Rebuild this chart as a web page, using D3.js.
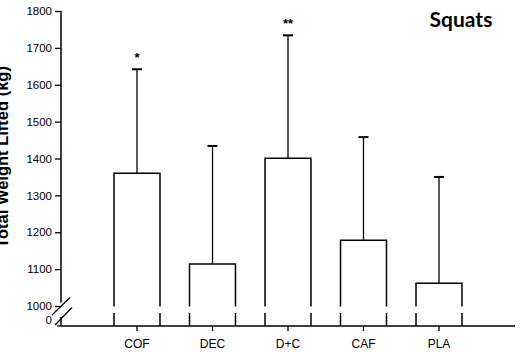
<!DOCTYPE html>
<html>
<head>
<meta charset="utf-8">
<script src="https://cdn.jsdelivr.net/npm/d3@7"></script>
<style>
  body { margin: 0; background: #fff; }
  svg { display: block; }
  text { font-family: "Liberation Sans", Arial, sans-serif; fill: #000; }
</style>
</head>
<body>
<div id="chart"></div>
<script>
// data
const groups = ["COF", "DEC", "D+C", "CAF", "PLA"];
const means = [1360, 1114, 1401, 1178, 1062];
const errTops = [1642, 1434, 1734, 1458, 1350];
const signif = ["*", "", "**", "", ""];
const yTicks = [1000, 1100, 1200, 1300, 1400, 1500, 1600, 1700, 1800];

const W = 530, H = 352;
const svg = d3.select("#chart").append("svg")
    .attr("width", W).attr("height", H);

const axisX = 61, axisRight = 515, baseY = 326;
const breakTop = 306.5, breakBot = 313;

const x = d3.scaleBand().domain(groups).range([114, 462]).paddingInner(0.391).paddingOuter(0);
const y = d3.scaleLinear().domain([1000, 1800]).range([306, 11]);

// y axis (upper part)
const yAxis = d3.axisLeft(y).tickValues(yTicks).tickSize(6).tickPadding(4).tickFormat(d3.format("d"));
const gy = svg.append("g").attr("transform", `translate(${axisX},0)`).call(yAxis);
gy.select(".domain").remove();
gy.selectAll(".tick line").attr("stroke", "#000").attr("stroke-width", 1.3);
gy.selectAll(".tick text").style("font-size", "11.5px").attr("x", -9);

svg.append("line")
    .attr("x1", axisX).attr("x2", axisX)
    .attr("y1", y(1800)).attr("y2", breakTop - 4)
    .attr("stroke", "#000").attr("stroke-width", 1.5);
svg.append("line")
    .attr("x1", axisX).attr("x2", axisX)
    .attr("y1", breakBot + 4).attr("y2", baseY)
    .attr("stroke", "#000").attr("stroke-width", 1.5);

// break slashes
[0, 10].forEach(off => {
  svg.append("line")
    .attr("x1", axisX - 9 + off * 0.3).attr("y1", breakBot + 2 + off)
    .attr("x2", axisX + 9 + off * 0.2).attr("y2", breakTop - 9 + off)
    .attr("stroke", "#000").attr("stroke-width", 1.2);
});

// zero label
svg.append("text")
    .attr("x", axisX - 9).attr("y", baseY - 2)
    .attr("text-anchor", "end")
    .style("font-size", "11.5px")
    .text("0");
svg.append("line")
    .attr("x1", axisX - 4).attr("x2", axisX)
    .attr("y1", baseY).attr("y2", baseY)
    .attr("stroke", "#000").attr("stroke-width", 1.3);

// x axis
svg.append("line")
    .attr("x1", axisX).attr("x2", axisRight)
    .attr("y1", baseY).attr("y2", baseY)
    .attr("stroke", "#000").attr("stroke-width", 1.5);
const xAxis = d3.axisBottom(x).tickSize(5).tickPadding(8);
const gx = svg.append("g").attr("transform", `translate(0,${baseY})`).call(xAxis);
gx.select(".domain").remove();
gx.selectAll(".tick line").attr("stroke", "#000").attr("stroke-width", 1.3);
gx.selectAll(".tick text").style("font-size", "12px");

// bars, drawn as open boxes broken at the axis break
const bars = svg.append("g");
groups.forEach((g, i) => {
  const x0 = x(g), x1 = x(g) + x.bandwidth(), top = y(means[i]);
  const p = d3.path();
  p.moveTo(x0, breakTop); p.lineTo(x0, top); p.lineTo(x1, top); p.lineTo(x1, breakTop);
  p.moveTo(x0, breakBot); p.lineTo(x0, baseY);
  p.moveTo(x1, breakBot); p.lineTo(x1, baseY);
  bars.append("path").attr("d", p.toString())
      .attr("fill", "none").attr("stroke", "#000").attr("stroke-width", 1.5);

  const cx = x(g) + x.bandwidth() / 2;
  bars.append("line")
      .attr("x1", cx).attr("x2", cx)
      .attr("y1", top).attr("y2", y(errTops[i]))
      .attr("stroke", "#000").attr("stroke-width", 1.3);
  bars.append("line")
      .attr("x1", cx - 5).attr("x2", cx + 5)
      .attr("y1", y(errTops[i])).attr("y2", y(errTops[i]))
      .attr("stroke", "#000").attr("stroke-width", 2);
  if (signif[i]) {
    bars.append("text")
        .attr("x", cx).attr("y", y(errTops[i]) - 7)
        .attr("text-anchor", "middle")
        .style("font-size", "13px").style("font-weight", "bold")
        .text(signif[i]);
  }
});

// y axis title, partly cut by the left edge as in the figure
svg.append("text")
    .attr("transform", "translate(8,157) rotate(-90)")
    .attr("text-anchor", "middle")
    .style("font-size", "16.5px").style("font-weight", "bold")
    .text("Total Weight Lifted (kg)");

// panel label
svg.append("text")
    .attr("x", 461).attr("y", 27)
    .attr("text-anchor", "middle")
    .style("font-family", "Lato, 'Open Sans', sans-serif")
    .style("font-size", "21px").style("font-weight", "bold")
    .text("Squats");
</script>
</body>
</html>
